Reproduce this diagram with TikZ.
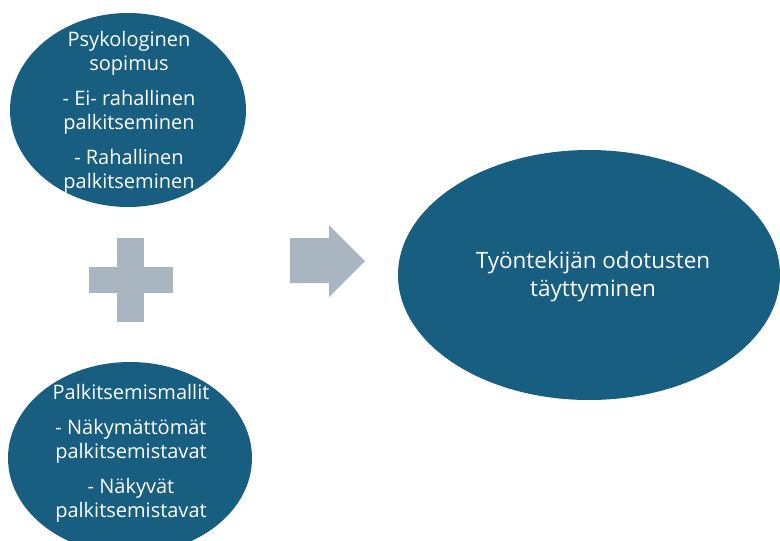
\documentclass[tikz,border=0pt]{standalone}
\usepackage{fontspec}
\setmainfont{Open Sans}
\usetikzlibrary{shapes.geometric}
\definecolor{Lagoon}{HTML}{175E80}
\definecolor{Slate}{HTML}{A9B5C1}
\tikzset{
  oval/.style={ellipse,fill=Lagoon,draw=none,inner sep=0pt},
  ovaltext/.style={text=white,align=center,inner sep=0pt,
    font=\fontsize{20}{24}\selectfont},
}
\begin{document}
\begin{tikzpicture}[x=1pt,y=-1pt]
    \useasboundingbox (0,0) rectangle (780,541);
    % left ellipses
    \node[oval,minimum width=236pt,minimum height=194pt] (sopimus) at (128,110) {};
    \node[ovaltext] (sopimusText) at (129,112) {Psykologinen\\sopimus\\[11pt]- Ei- rahallinen\\palkitseminen\\[11pt]- Rahallinen\\palkitseminen};

    \node[oval,minimum width=244pt,minimum height=192pt] (mallit) at (130,458) {};
    \node[ovaltext] (mallitText) at (131,453) {Palkitsemismallit\\[11pt]- Näkymättömät\\palkitsemistavat\\[11pt]- Näkyvät\\palkitsemistavat};

    % plus
    \fill[Slate] (117,238) rectangle (144,322);
    \fill[Slate] (89,267) rectangle (173,293);

    % arrow
    \fill[Slate] (290,238) -- (329,238) -- (329,225) -- (365,261) -- (329,297) -- (329,283) -- (290,283) -- cycle;

    % result
    \node[oval,minimum width=382pt,minimum height=250pt] (odotukset) at (589,275) {};
    \node[ovaltext,font=\fontsize{22.5}{28}\selectfont] (odotuksetText) at (593,277) {Työntekijän odotusten\\täyttyminen};
\end{tikzpicture}
\end{document}
